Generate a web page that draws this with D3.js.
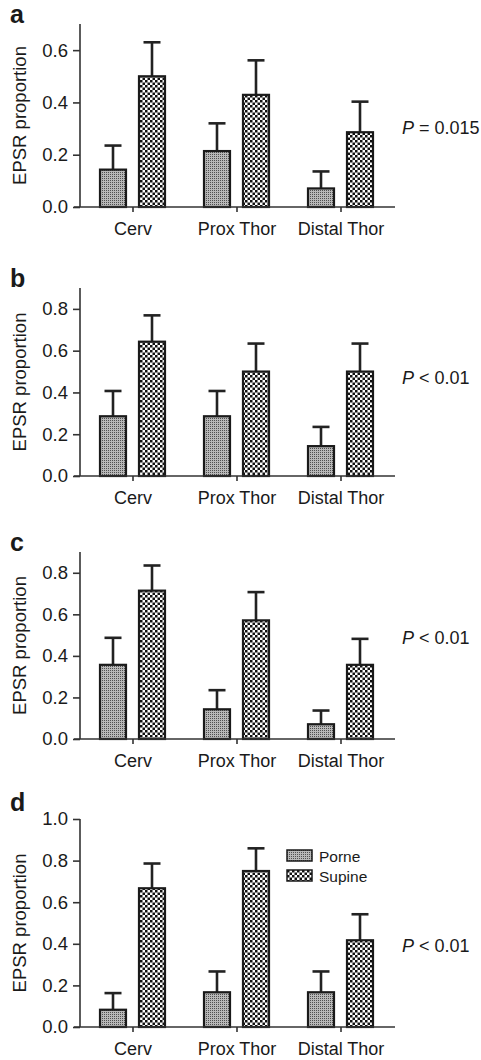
<!DOCTYPE html>
<html>
<head>
<meta charset="utf-8">
<script src="https://cdn.jsdelivr.net/npm/d3@7"></script>
<style>
  body { margin: 0; background: #fff; }
  text { font-family: "Liberation Sans", Arial, Helvetica, sans-serif; fill: #1a1a1a; }
</style>
</head>
<body>
<div id="chart"></div>
<script>
// Categories and series
const categories = ["Cerv", "Prox Thor", "Distal Thor"];
const seriesNames = ["Porne", "Supine"];
const panelLetters = ["a", "b", "c", "d"];
const pLabels = [["P", " = 0.015"], ["P", " < 0.01"], ["P", " < 0.01"], ["P", " < 0.01"]];
const yMaxes = [0.7, 0.9, 0.9, 1.0];

// Proportions (mean) and error (upper error bar length) per panel
const porneA = [0.143, 0.214, 0.071], porneErrA = [0.092, 0.106, 0.065];
const supineA = [0.5, 0.429, 0.286], supineErrA = [0.13, 0.132, 0.117];
const porneB = [0.286, 0.286, 0.143], porneErrB = [0.121, 0.121, 0.092];
const supineB = [0.643, 0.5, 0.5], supineErrB = [0.126, 0.134, 0.134];
const porneC = [0.357, 0.143, 0.071], porneErrC = [0.13, 0.092, 0.066];
const supineC = [0.714, 0.571, 0.357], supineErrC = [0.121, 0.136, 0.125];
const porneD = [0.083, 0.167, 0.167], porneErrD = [0.08, 0.1, 0.1];
const supineD = [0.667, 0.75, 0.417], supineErrD = [0.119, 0.109, 0.125];

const panelsData = [
  [porneA, porneErrA, supineA, supineErrA],
  [porneB, porneErrB, supineB, supineErrB],
  [porneC, porneErrC, supineC, supineErrC],
  [porneD, porneErrD, supineD, supineErrD]
];

// Layout: pixel top/bottom of each plot area
const panelBox = [
  { top: 24, bottom: 207, pY: 134 },
  { top: 288, bottom: 476, pY: 384 },
  { top: 552, bottom: 739, pY: 644 },
  { top: 819, bottom: 1027, pY: 952 }
];
const axisX = 80, plotRight = 393;

const svg = d3.select("#chart").append("svg")
  .attr("width", 481).attr("height", 1060);

// Patterns for the two groups
const defs = svg.append("defs");
const pPorne = defs.append("pattern").attr("id", "pat-porne")
  .attr("patternUnits", "userSpaceOnUse").attr("width", 2).attr("height", 2);
pPorne.append("rect").attr("width", 2).attr("height", 2).attr("fill", "#b8b8b8");
pPorne.append("rect").attr("width", 1).attr("height", 1).attr("fill", "#505050");

const pSup = defs.append("pattern").attr("id", "pat-supine")
  .attr("patternUnits", "userSpaceOnUse").attr("width", 5).attr("height", 5);
pSup.append("rect").attr("width", 5).attr("height", 5).attr("fill", "#fff");
pSup.append("rect").attr("width", 2.5).attr("height", 2.5).attr("fill", "#111");
pSup.append("rect").attr("x", 2.5).attr("y", 2.5).attr("width", 2.5).attr("height", 2.5).attr("fill", "#111");

const fills = { Porne: "url(#pat-porne)", Supine: "url(#pat-supine)" };

const x = d3.scaleBand().domain(categories).range([axisX + 1, plotRight]).padding(0);
const xSub = d3.scaleBand().domain(seriesNames).range([-34, 33]).paddingInner(0.282).paddingOuter(0);

panelsData.forEach(function (pd, i) {
  const box = panelBox[i];
  const g = svg.append("g");

  const y = d3.scaleLinear().domain([0, yMaxes[i]]).range([box.bottom, box.top]);
  const ticks = d3.range(0, yMaxes[i] + 0.001, 0.2);

  const rows = categories.map(function (c, k) {
    return [
      { cat: c, s: "Porne", v: pd[0][k], e: pd[1][k] },
      { cat: c, s: "Supine", v: pd[2][k], e: pd[3][k] }
    ];
  }).flat();

  // error bars (drawn first, bars overlay the lower part)
  const eb = g.append("g").attr("stroke", "#222").attr("stroke-width", 2.6);
  rows.forEach(function (d) {
    const cx = x(d.cat) + x.bandwidth() / 2 + xSub(d.s) + xSub.bandwidth() / 2;
    eb.append("line").attr("x1", cx).attr("x2", cx)
      .attr("y1", y(d.v)).attr("y2", y(d.v + d.e));
    eb.append("line").attr("x1", cx - 8.5).attr("x2", cx + 8.5)
      .attr("y1", y(d.v + d.e)).attr("y2", y(d.v + d.e));
  });

  // bars
  g.append("g").selectAll("rect").data(rows).join("rect")
    .attr("x", d => x(d.cat) + x.bandwidth() / 2 + xSub(d.s) + 1)
    .attr("y", d => y(d.v))
    .attr("width", xSub.bandwidth() - 2)
    .attr("height", d => y(0) - y(d.v))
    .attr("fill", d => fills[d.s])
    .attr("stroke", "#1a1a1a")
    .attr("stroke-width", 2.2);

  // y axis
  const yAxis = g.append("g").attr("transform", `translate(${axisX},0)`)
    .call(d3.axisLeft(y).tickValues(ticks).tickFormat(d3.format(".1f")).tickSize(7).tickPadding(5));
  yAxis.select(".domain").attr("d", `M0,${box.top}V${box.bottom}`);
  yAxis.selectAll("path, line").attr("stroke", "#333").attr("stroke-width", 1.6);
  yAxis.selectAll("text").attr("font-size", 18.5).style("font-family", "'Liberation Sans', Arial, sans-serif").attr("fill", "#1a1a1a");

  // x axis
  const xAxis = g.append("g").attr("transform", `translate(0,${box.bottom})`)
    .call(d3.axisBottom(x).tickSize(5).tickPadding(10));
  xAxis.select(".domain").attr("d", `M${axisX - 6},0H${plotRight + 2}`);
  xAxis.selectAll("path, line").attr("stroke", "#333").attr("stroke-width", 1.6);
  xAxis.selectAll("text").attr("font-size", 18).style("font-family", "'Liberation Sans', Arial, sans-serif").attr("fill", "#1a1a1a");

  // y axis title
  g.append("text")
    .attr("transform", `translate(26,${(box.top + box.bottom) / 2}) rotate(-90)`)
    .attr("text-anchor", "middle")
    .attr("font-size", 18.5)
    .text("EPSR proportion");

  // panel letter
  g.append("text")
    .attr("x", 10).attr("y", box.top - 1 + (i === 3 ? -7 : 0))
    .attr("font-size", 25).attr("font-weight", "bold")
    .text(panelLetters[i]);

  // p value
  const pt = g.append("text").attr("x", 402).attr("y", box.pY).attr("font-size", 18);
  pt.append("tspan").attr("font-style", "italic").text(pLabels[i][0]);
  pt.append("tspan").text(pLabels[i][1]);

  // legend in last panel
  if (i === 3) {
    const lg = g.append("g").attr("transform", "translate(287,850)");
    seriesNames.forEach(function (s, k) {
      lg.append("rect").attr("x", 0).attr("y", k * 20).attr("width", 25).attr("height", 11)
        .attr("fill", fills[s]).attr("stroke", "#1a1a1a").attr("stroke-width", 1.5);
      lg.append("text").attr("x", 32).attr("y", k * 20 + 12).attr("font-size", 15.5).text(s);
    });
  }
});
</script>
</body>
</html>
